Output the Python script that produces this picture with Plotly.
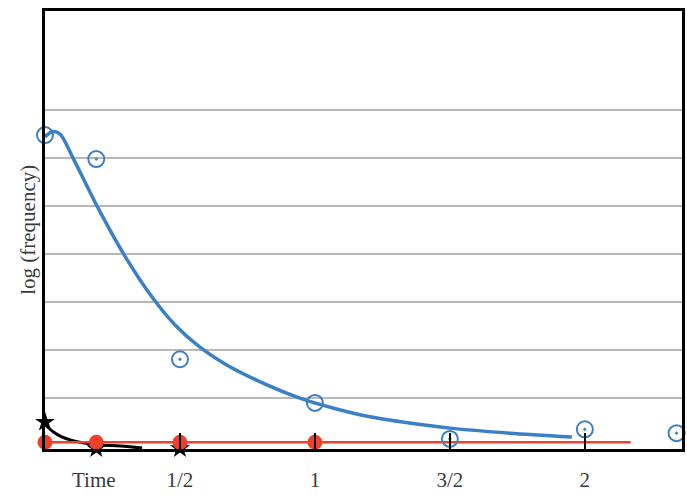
import plotly.graph_objects as go

# Fitted blue curve
curve_x = [0.0, 0.026, 0.056, 0.104, 0.193, 0.296, 0.4, 0.481, 0.574, 0.667, 0.77, 0.944, 1.07, 1.204, 1.35, 1.5, 1.722, 1.952]
curve_y = [6.44, 6.55, 6.5, 6.0, 5.0, 3.96, 3.08, 2.53, 2.06, 1.71, 1.41, 1.0, 0.79, 0.61, 0.48, 0.375, 0.27, 0.19]

# Blue observed points
obs_x = [0.0, 0.19, 0.5, 1.0, 1.5, 2.0, 2.34]
obs_y = [6.48, 5.98, 1.81, 0.9, 0.15, 0.35, 0.27]

# Black decay curve and stars
black_x = [0.0, 0.03, 0.06, 0.1, 0.14, 0.2, 0.28, 0.36]
black_y = [0.45, 0.3, 0.2, 0.12, 0.07, 0.03, 0.0, -0.04]
star_x = [0.0, 0.19, 0.5, 1.0]
star_y = [0.5, -0.05, -0.05, -0.08]

# Red line and dots
red_line_x = [0.0, 2.17]
red_line_y = [0.08, 0.08]
red_x = [0.0, 0.19, 0.5, 1.0]
red_y = [0.08, 0.08, 0.08, 0.08]

tick_vals = [0.5, 1, 1.5, 2]
tick_text = ["1/2", "1", "3/2", "2"]

BLUE = "#3b80c6"
RED = "#f0402a"
TXT = "#3a3a3a"
FONT = "Liberation Serif"

fig = go.Figure()
fig.add_trace(go.Scatter(x=black_x, y=black_y, mode="lines",
                         line=dict(color="black", width=3, shape="spline"),
                         cliponaxis=False, showlegend=False))
fig.add_trace(go.Scatter(x=red_line_x, y=red_line_y, mode="lines",
                         line=dict(color=RED, width=2.5), showlegend=False))
fig.add_trace(go.Scatter(x=curve_x, y=curve_y, mode="lines",
                         line=dict(color=BLUE, width=3.5, shape="spline", smoothing=0.8),
                         cliponaxis=False, showlegend=False))
fig.add_trace(go.Scatter(x=star_x, y=star_y, mode="markers",
                         marker=dict(symbol="star", size=15, color="black"),
                         cliponaxis=False, showlegend=False))
fig.add_trace(go.Scatter(x=red_x, y=red_y, mode="markers",
                         marker=dict(symbol="circle", size=15, color=RED),
                         cliponaxis=False, showlegend=False))
fig.add_trace(go.Scatter(x=obs_x, y=obs_y, mode="markers",
                         marker=dict(symbol="circle-dot", size=16, color="rgba(0,0,0,0)",
                                     line=dict(color=BLUE, width=2)),
                         cliponaxis=False, showlegend=False))

fig.update_layout(
    width=687, height=496,
    margin=dict(l=45, r=5, t=11, b=47, autoexpand=False),
    paper_bgcolor="white", plot_bgcolor="white",
    font=dict(family=FONT, size=21, color=TXT),
    xaxis=dict(range=[0, 2.36], showgrid=False, zeroline=False, automargin=False,
               showline=True, linecolor="black", linewidth=3, mirror=True,
               tickvals=tick_vals, ticktext=tick_text,
               ticks="inside", ticklen=16, tickwidth=2, tickcolor="black",
               ticklabelstandoff=10),
    yaxis=dict(range=[-0.06, 9.065], tickvals=[1, 2, 3, 4, 5, 6, 7], automargin=False,
               showticklabels=False, showgrid=True, gridcolor="#b8b8b8", gridwidth=1.5,
               zeroline=False, showline=True, linecolor="black", linewidth=3, mirror=True),
    annotations=[
        dict(text="Time", x=0.18, y=0, xref="x", yref="paper", yshift=-31,
             showarrow=False, font=dict(family=FONT, size=21, color=TXT),
             yanchor="middle"),
        dict(text="log (frequency)", x=-0.049, y=0.5, xref="paper", yref="paper",
             textangle=-90, showarrow=False,
             font=dict(family=FONT, size=21, color=TXT)),
    ],
)

fig.write_html("out.html")
